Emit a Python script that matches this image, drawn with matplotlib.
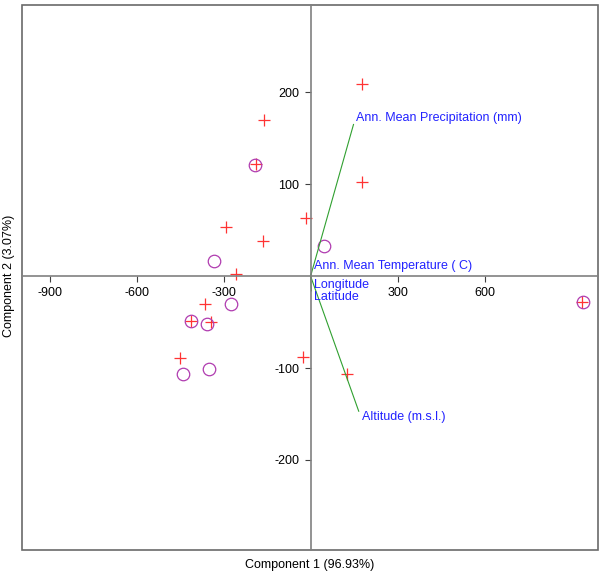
import numpy as np
import matplotlib.pyplot as plt
from matplotlib.patches import Rectangle

plt.rcParams['font.family'] = ['Liberation Sans', 'DejaVu Sans']
plt.rcParams['axes.unicode_minus'] = False

# scores, group 1 (plus markers)
plus_x = [178, -160, 178, -15, -291, -164, -257, -364, -343, -450, -26, 126, -188, -412, 937]
plus_y = [209, 170, 102, 63, 53, 38, 2, -30, -50, -89, -88, -106, 122, -49, -28]

# scores, group 2 (circle markers)
circ_x = [-332, 47, -273, -358, -441, -351, -190, -411, 938]
circ_y = [16, 33, -30, -52, -106, -101, 121, -49, -28]

# variable loadings
var_names = ["Ann. Mean Precipitation (mm)", "Altitude (m.s.l.)",
             "Ann. Mean Temperature ( C)", "Longitude", "Latitude"]
load_x = [148, 166, 3, 3, 3]
load_y = [165, -147, 4, -3, -16]

xticks = [-900, -600, -300, 300, 600]
yticks = [-200, -100, 100, 200]

fig = plt.figure(figsize=(6, 5.72), dpi=100)
ax = fig.add_axes([22/600, 1-550/572, 576/600, 545/572])

axcol = '#808080'
ax.plot(plus_x, plus_y, '+', color='#FF3333', ms=9, mew=0.9, ls='none')
ax.plot(circ_x, circ_y, 'o', mfc='none', mec='#B03CB0', ms=9, mew=0.9, ls='none')

for name, lx, ly in zip(var_names, load_x, load_y):
    ax.plot([0, lx], [0, ly], color='#30A030', lw=0.8)
    va = 'bottom' if ly > 0 else 'top'
    ax.annotate(name, (lx, ly), xytext=(2, 0), textcoords='offset points',
                color='#2222FF', fontsize=9, ha='left', va=va)

ax.set_xlim(-995, 991)
ax.set_ylim(-298, 295)

for s in ['top', 'right']:
    ax.spines[s].set_visible(False)
ax.spines['left'].set_position(('data', 0))
ax.spines['bottom'].set_position(('data', 0))
ax.spines['left'].set_color(axcol)
ax.spines['bottom'].set_color(axcol)
ax.spines['left'].set_linewidth(1.2)
ax.spines['bottom'].set_linewidth(1.2)

ax.set_xticks(xticks)
ax.set_yticks(yticks)
ax.tick_params(direction='out', length=4, width=0.8, color='#404040',
               labelsize=9, pad=4)

# outer frame
ax.add_patch(Rectangle((0, 0), 1, 1, transform=ax.transAxes, fill=False,
                       ec='#6a6a6a', lw=1.2, clip_on=False))

fig.text(310/600, 1-565/572, "Component 1 (96.93%)", ha='center', va='center', fontsize=9)
fig.text(9/600, 1-276/572, "Component 2 (3.07%)", ha='center', va='center',
         rotation=90, fontsize=9)

fig.savefig('out.png', dpi=100)
